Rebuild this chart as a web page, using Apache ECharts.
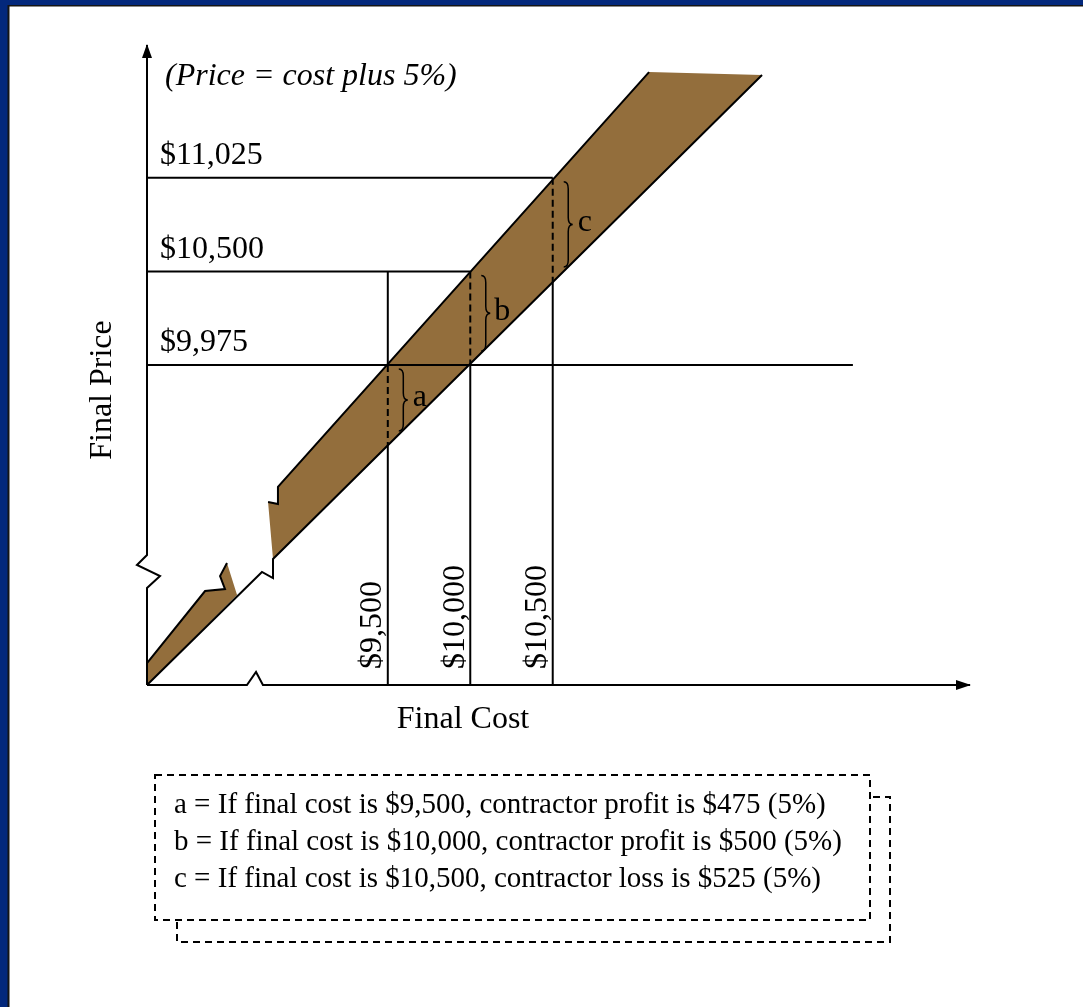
<!DOCTYPE html>
<html>
<head>
<meta charset="utf-8">
<script src="https://cdn.jsdelivr.net/npm/echarts@6/dist/echarts.min.js"></script>
<style>
  html, body { margin: 0; padding: 0; background: #ffffff; }
  #main { width: 1083px; height: 1007px; }
</style>
</head>
<body>
<div id="main"></div>
<script>
// ---------------- data (cost on x, price on y) ----------------
const costTicks = [9500, 10000, 10500];
const costTickLabels = ['$9,500', '$10,000', '$10,500'];
const priceTicks = [9975, 10500, 11025];            // price = cost plus 5%
const priceTickLabels = ['$9,975', '$10,500', '$11,025'];
const costLineAtTicks = [9526, 9975, 10446];         // lower edge of band at each cost tick
const vLineTops = [10500, 10500, 11025];             // top of each cost guide line
const hLineEnds = [12320, 10000, 10500];             // right end (cost) of each price guide line
const braceLetters = ['a', 'b', 'c'];

// lower edge of the band (with axis break zig-zag)
const costLine = [[8040, 8180], [8737, 8814], [8804, 8780], [8804, 8887], [11769, 11602]];
// upper edge of the band: fragment before the break and after it
const priceLineLow = [[8040, 8303], [8392, 8707], [8513, 8718], [8483, 8791], [8525, 8864]];
const priceLineHigh = [[8774, 9206], [8834, 9195], [8834, 9291], [11084, 11618]];
const tornEdge = [[8586, 8685]];
// axes with break marks
const yAxisPath = [[8040, 8180], [8040, 8724], [8119, 8791], [7979, 8853], [8040, 8909], [8040, 11770]];
const xAxisPath = [[8040, 8180], [8646, 8180], [8701, 8253], [8743, 8180], [13030, 8180]];

const legendLines = [
  'a = If final cost is $9,500, contractor profit is $475 (5%)',
  'b = If final cost is $10,000, contractor profit is $500 (5%)',
  'c = If final cost is $10,500, contractor loss is $525 (5%)'
];

// ---------------- build ----------------
const X_MIN = 8040, X_MAX = 13030, Y_MIN = 8180, Y_MAX = 11770;
const SERIF = "'Liberation Serif','Times New Roman',serif";
const BAND = '#936e3c';

const bandPolys = [
  costLine.slice(0, 1).concat(priceLineLow, tornEdge),
  costLine.slice(3, 5).concat(priceLineHigh.slice().reverse())
];

const polylines = [
  { pts: xAxisPath }, { pts: yAxisPath },
  { pts: costLine }, { pts: priceLineLow }, { pts: priceLineHigh }
];
priceTicks.forEach((p, i) => polylines.push({ pts: [[X_MIN, p], [hLineEnds[i], p]] }));
costTicks.forEach((c, i) => {
  if (vLineTops[i] > priceTicks[i]) polylines.push({ pts: [[c, vLineTops[i]], [c, priceTicks[i]]] });
  polylines.push({ pts: [[c, priceTicks[i]], [c, costLineAtTicks[i]]], dash: [7, 4] });
  polylines.push({ pts: [[c, costLineAtTicks[i]], [c, Y_MIN]] });
});

const dummy = n => Array.from({ length: n }, () => [X_MIN, Y_MIN]);

const option = {
  animation: false,
  backgroundColor: '#ffffff',
  grid: { left: 147, top: 45, right: 113, bottom: 322, containLabel: false },
  xAxis: { type: 'value', min: X_MIN, max: X_MAX, show: false },
  yAxis: { type: 'value', min: Y_MIN, max: Y_MAX, show: false },
  series: [
    { // band fill
      type: 'custom', coordinateSystem: 'cartesian2d', silent: true, z: 1,
      data: dummy(bandPolys.length),
      renderItem: (params, api) => ({
        type: 'polygon',
        shape: { points: bandPolys[params.dataIndex].map(p => api.coord(p)) },
        style: { fill: BAND, stroke: 'none' }
      })
    },
    { // all lines
      type: 'custom', coordinateSystem: 'cartesian2d', silent: true, z: 2,
      data: dummy(polylines.length),
      renderItem: (params, api) => {
        const d = polylines[params.dataIndex];
        return {
          type: 'polyline',
          shape: { points: d.pts.map(p => api.coord(p)) },
          style: { fill: 'none', stroke: '#000', lineWidth: 2, lineDash: d.dash || null, lineJoin: 'miter' }
        };
      }
    },
    { // arrow heads
      type: 'custom', coordinateSystem: 'cartesian2d', silent: true, z: 3,
      data: dummy(2),
      renderItem: (params, api) => {
        let pts;
        if (params.dataIndex === 0) {
          const t = api.coord([X_MIN, Y_MAX]);
          pts = [[t[0], t[1] - 1], [t[0] - 5, t[1] + 13], [t[0] + 5, t[1] + 13]];
        } else {
          const t = api.coord([X_MAX, Y_MIN]);
          pts = [[t[0] + 1, t[1]], [t[0] - 14, t[1] - 5], [t[0] - 14, t[1] + 5]];
        }
        return { type: 'polygon', shape: { points: pts }, style: { fill: '#000', stroke: 'none' } };
      }
    },
    { // braces + letters
      type: 'custom', coordinateSystem: 'cartesian2d', silent: true, z: 4,
      data: dummy(costTicks.length),
      renderItem: (params, api) => {
        const i = params.dataIndex;
        const top = api.coord([costTicks[i], priceTicks[i]]);
        const bot = api.coord([costTicks[i], costLineAtTicks[i]]);
        const x0 = top[0] + 11, w = 9;
        const yt = top[1] + 4, yb = bot[1] - 14, ym = (yt + yb) / 2;
        const xm = x0 + w * 0.5;
        const d = `M${x0},${yt} Q${xm},${yt} ${xm},${yt + 7} L${xm},${ym - 7} Q${xm},${ym} ${x0 + w},${ym} ` +
                  `Q${xm},${ym} ${xm},${ym + 7} L${xm},${yb - 7} Q${xm},${yb} ${x0},${yb}`;
        return {
          type: 'group',
          children: [
            { type: 'path', shape: { pathData: d }, style: { fill: 'none', stroke: '#000', lineWidth: 1.5 } },
            { type: 'text', x: top[0] + 32, y: ym - 2,
              style: { text: braceLetters[i], font: '32px ' + SERIF, fill: '#000', align: 'center', verticalAlign: 'middle' } }
          ]
        };
      }
    },
    { // price tick labels
      type: 'custom', coordinateSystem: 'cartesian2d', silent: true, z: 5,
      data: dummy(priceTicks.length),
      renderItem: (params, api) => {
        const p = api.coord([X_MIN, priceTicks[params.dataIndex]]);
        return { type: 'text', x: p[0] + 13, y: p[1] - 22,
          style: { text: priceTickLabels[params.dataIndex], font: '32px ' + SERIF, fill: '#000', align: 'left', verticalAlign: 'middle' } };
      }
    },
    { // cost tick labels (rotated)
      type: 'custom', coordinateSystem: 'cartesian2d', silent: true, z: 5,
      data: dummy(costTicks.length),
      renderItem: (params, api) => {
        const p = api.coord([costTicks[params.dataIndex], Y_MIN]);
        return { type: 'text', x: p[0] + 1, y: p[1] - 16, rotation: Math.PI / 2,
          style: { text: costTickLabels[params.dataIndex], font: '32px ' + SERIF, fill: '#000', align: 'left', verticalAlign: 'bottom' } };
      }
    }
  ],
  graphic: [
    // frame
    { type: 'rect', shape: { x: 0, y: 0, width: 1083, height: 5 }, style: { fill: '#03287c' }, z: 10 },
    { type: 'rect', shape: { x: 0, y: 0, width: 8, height: 1007 }, style: { fill: '#03287c' }, z: 10 },
    { type: 'rect', shape: { x: 8, y: 5, width: 1075, height: 1.5 }, style: { fill: '#151515' }, z: 10 },
    { type: 'rect', shape: { x: 7.5, y: 5, width: 2, height: 1002 }, style: { fill: '#151515' }, z: 10 },
    // titles
    { type: 'text', left: 165, top: 61, style: { text: '(Price = cost plus 5%)', font: 'italic 32px ' + SERIF, fill: '#000' } },
    { type: 'text', x: 463, y: 720, style: { text: 'Final Cost', font: '32px ' + SERIF, fill: '#000', align: 'center', verticalAlign: 'middle' } },
    { type: 'text', x: 103, y: 390, rotation: Math.PI / 2, style: { text: 'Final Price', font: '32px ' + SERIF, fill: '#000', align: 'center', verticalAlign: 'middle' } },
    // legend boxes
    { type: 'rect', z: 20, shape: { x: 177, y: 797, width: 713, height: 145 }, style: { fill: '#fff', stroke: '#000', lineWidth: 2, lineDash: [7, 5] } },
    { type: 'rect', z: 21, shape: { x: 155, y: 775, width: 715, height: 145 }, style: { fill: '#fff', stroke: '#000', lineWidth: 2, lineDash: [7, 5] } },
    ...legendLines.map((t, i) => ({ type: 'text', z: 22, x: 174, y: 805 + i * 37,
      style: { text: t, font: '29px ' + SERIF, fill: '#000', align: 'left', verticalAlign: 'middle' } }))
  ]
};

const chart = echarts.init(document.getElementById('main'), null, { renderer: 'canvas', width: 1083, height: 1007 });
chart.setOption(option);
</script>
</body>
</html>
